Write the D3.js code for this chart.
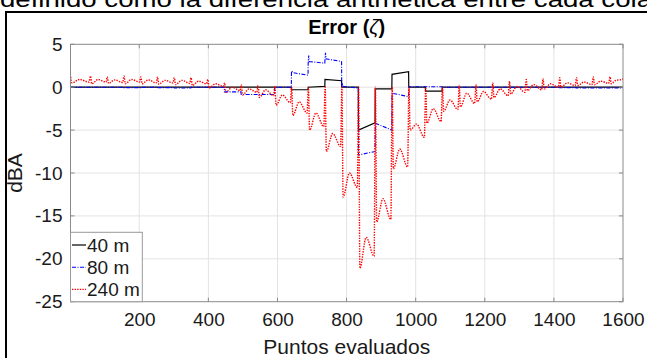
<!DOCTYPE html>
<html><head><meta charset="utf-8">
<script src="https://cdn.jsdelivr.net/npm/d3@7"></script>
<style>
html,body{margin:0;padding:0;background:#fff;}
svg{display:block;font-family:"Liberation Sans",Arial,Helvetica,sans-serif;}
</style></head>
<body>
<svg id="chart" width="647" height="358"></svg>
<script>
// ---- data ----
const seriesNames = ["40 m", "80 m", "240 m"];
const xTicks = [200, 400, 600, 800, 1000, 1200, 1400, 1600];
const yTicks = [-25, -20, -15, -10, -5, 0, 5];
// start of each measurement block (point index)
const blockStarts = [1, 58.5, 107, 155.5, 204, 252.5, 301, 349.5, 398, 446.5, 495, 543.5, 592, 640.5, 689, 737.5, 786, 834.5, 883, 931.5, 980, 1028.5, 1077, 1125.5, 1174, 1222.5, 1271, 1319.5, 1368, 1416.5, 1465, 1513.5, 1562];
const lastPoint = 1600;
// 240 m (red): per block spike at start, first minimum, hump, second minimum
const redTop  = [1.2, 1.3, 1.2, 1.3, 1.2, 1.2, 1.1, 1.1, 0.9, 0.5, 0.3, 0.2, 0.1, 0.0, 0.0, 0.0, 0.0, 0.0, 0.0, 0.0, 0.0, 0.0, 0.0, 0.2, 0.3, 0.5, 0.7, 0.9, 1.0, 1.1, 1.1, 1.2, 1.2];
const redMin1 = [0.5, 0.4, 0.45, 0.4, 0.4, 0.35, 0.3, 0.2, -0.1, -0.6, -0.9, -1.2, -2.1, -3.3, -5.0, -7.5, -12.8, -21.1, -15.7, -9.5, -5.0, -4.2, -2.8, -2.3, -1.7, -1.2, -0.8, -0.4, -0.2, 0.0, 0.2, 0.3, 0.4];
const redHump = [0.9, 0.9, 0.85, 0.9, 0.85, 0.8, 0.8, 0.7, 0.4, 0.0, -0.2, -0.3, -0.9, -1.7, -3.0, -5.4, -10.0, -17.5, -13.0, -7.2, -4.3, -2.5, -1.5, -0.7, -0.5, -0.2, 0.1, 0.3, 0.4, 0.5, 0.6, 0.7, 0.8];
const redMin2 = [0.6, 0.6, 0.55, 0.6, 0.5, 0.5, 0.45, 0.4, 0.1, -0.4, -0.6, -1.0, -1.8, -3.0, -4.6, -6.9, -11.7, -19.7, -15.4, -9.3, -5.85, -4.0, -2.6, -1.9, -1.4, -1.0, -0.6, -0.3, 0.0, 0.2, 0.3, 0.45, 0.9];
const redLast = 1.0;
// 80 m (blue): value at start / end of each block, plus start spikes
const blueStart = [0, 0, 0, -0.05, 0, -0.05, -0.1, 0, 0, -0.55, -0.85, -0.85, 0, 1.7, 3.0, 3.3, 0.1, -7.9, -4.2, -0.7, 0.05, 0.05, 0, 0, 0, 0, 0, 0, 0, -0.05, -0.1, -0.1, -0.1];
const blueEnd   = [0, 0, 0, -0.05, 0, -0.05, -0.1, 0, 0, -0.55, -0.85, -0.85, 0, 1.4, 2.8, 3.0, -0.1, -7.5, -5.0, -1.1, 0.05, 0.05, 0, 0, 0, 0, 0, 0, 0, -0.05, -0.1, -0.1, -0.1];
const blueSpike = [null, null, null, null, null, null, null, null, null, null, null, null, null, 1.9, 3.7, 4.0, 0.5, null, null, null, null, null, null, null, null, null, null, null, null, null, null, null, null];
// 40 m (black)
const blackStart = [0, 0, 0, 0, 0, 0, 0, 0, 0, 0, 0, 0, 0, -0.3, 0.0, 0.9, 0, -5.0, -0.2, 1.5, 0, -0.45, 0, 0, 0, 0, 0, 0, 0, 0, 0, 0, 0];
const blackEnd   = [0, 0, 0, 0, 0, 0, 0, 0, 0, 0, 0, 0, 0, -0.3, 0.1, 0.75, 0, -4.15, -0.2, 1.8, 0, -0.45, 0, 0, 0, 0, 0, 0, 0, 0, 0, 0, 0];

// ---- layout ----
const svg = d3.select("#chart");
const L = 70.5, R = 623, T = 44.3, B = 301.7;
const x = d3.scaleLinear().domain([1, 1600]).range([L, R]);
const y = d3.scaleLinear().domain([-25, 5]).range([B, T]);

// clipped text of the surrounding document
svg.append("text").attr("x", 0).attr("y", 7).attr("font-size", 22)
  .attr("textLength", 652).attr("lengthAdjust", "spacingAndGlyphs")
  .text("definido como la diferencia aritmética entre cada cola");

// outer frame (left + top)
svg.append("path").attr("d", `M6,358 V12 H647`).attr("fill", "none")
  .attr("stroke", "#000").attr("stroke-width", 2);

// grid
const grid = svg.append("g");
grid.selectAll("line.gx").data(xTicks.filter(d => d < 1600)).enter().append("line")
  .attr("x1", d => x(d)).attr("x2", d => x(d)).attr("y1", T).attr("y2", B)
  .attr("stroke", "#e3e3e3").attr("stroke-width", 1);
grid.selectAll("line.gy").data(yTicks.filter(d => d > -25 && d < 5)).enter().append("line")
  .attr("x1", L).attr("x2", R).attr("y1", d => y(d)).attr("y2", d => y(d))
  .attr("stroke", "#e3e3e3").attr("stroke-width", 1);

// series points
const redPts = [], bluePts = [], blackPts = [];
blockStarts.forEach((b, i) => {
  const e = i + 1 < blockStarts.length ? blockStarts[i + 1] : lastPoint;
  const w = e - b;
  redPts.push([b + 0.5, redTop[i]], [b + 4, redMin1[i]], [b + 0.46 * w, redHump[i]], [b + 0.93 * w, redMin2[i]]);
  blackPts.push([b, blackStart[i]], [e - 0.5, blackEnd[i]]);
  bluePts.push([b, blueStart[i]]);
  if (blueSpike[i] !== null) bluePts.push([b + 1.5, blueSpike[i]], [b + 3, blueStart[i]]);
  bluePts.push([e - 0.5, blueEnd[i]]);
});
redPts.push([lastPoint, redLast]);

svg.append("defs").append("clipPath").attr("id", "clip")
  .append("rect").attr("x", L).attr("y", T).attr("width", R - L).attr("height", B - T);
const plot = svg.append("g").attr("clip-path", "url(#clip)");
const lineLin = d3.line().x(d => x(d[0])).y(d => y(d[1]));
const lineCurve = d3.line().x(d => x(d[0])).y(d => y(d[1])).curve(d3.curveMonotoneX);

plot.append("path").datum(blackPts).attr("d", lineLin).attr("fill", "none")
  .attr("stroke", "#000").attr("stroke-width", 1.2);
plot.append("path").datum(bluePts).attr("d", lineLin).attr("fill", "none")
  .attr("stroke", "#0000ff").attr("stroke-width", 1.1).attr("stroke-dasharray", "4,1.5,1,1.5");
plot.append("path").datum(redPts).attr("d", lineCurve).attr("fill", "none")
  .attr("stroke", "#ff0000").attr("stroke-width", 1.4).attr("stroke-dasharray", "1.4,1.2");

// axes box
const axisColor = "#8a8a8a";
svg.append("rect").attr("x", L).attr("y", T).attr("width", R - L).attr("height", B - T)
  .attr("fill", "none").attr("stroke", axisColor).attr("stroke-width", 1);
const xAxis = d3.axisBottom(x).tickValues(xTicks).tickSize(0).tickPadding(11).tickFormat(d => String(d));
const gx = svg.append("g").attr("transform", `translate(0,${B})`).call(xAxis);
gx.select(".domain").remove();
gx.selectAll("text").attr("font-size", 19).attr("fill", "#1a1a1a")
  .attr("font-family", "Liberation Sans, Arial, sans-serif");
const yAxis = d3.axisLeft(y).tickValues(yTicks).tickSize(0).tickPadding(8).tickFormat(d => String(d));
const gy = svg.append("g").attr("transform", `translate(${L},0)`).call(yAxis);
gy.select(".domain").remove();
gy.selectAll("text").attr("font-size", 19).attr("fill", "#1a1a1a")
  .attr("font-family", "Liberation Sans, Arial, sans-serif");
// inward tick marks
const tk = svg.append("g").attr("stroke", axisColor).attr("stroke-width", 1);
xTicks.forEach(d => {
  tk.append("line").attr("x1", x(d)).attr("x2", x(d)).attr("y1", B).attr("y2", B - 4);
  tk.append("line").attr("x1", x(d)).attr("x2", x(d)).attr("y1", T).attr("y2", T + 4);
});
yTicks.forEach(d => {
  tk.append("line").attr("x1", L).attr("x2", L + 4).attr("y1", y(d)).attr("y2", y(d));
  tk.append("line").attr("x1", R).attr("x2", R - 4).attr("y1", y(d)).attr("y2", y(d));
});

// title & labels
const title = svg.append("text").attr("x", (L + R) / 2).attr("y", 34).attr("text-anchor", "middle")
  .attr("font-size", 20).attr("font-weight", "bold").attr("fill", "#000");
title.append("tspan").text("Error (");
title.append("tspan").attr("font-style", "italic").attr("font-weight", "normal").text("ζ");
title.append("tspan").text(")");
svg.append("text").attr("x", (L + R) / 2).attr("y", 354).attr("text-anchor", "middle")
  .attr("font-size", 21).attr("fill", "#1a1a1a").text("Puntos evaluados");
svg.append("text").attr("transform", `translate(22,${(T + B) / 2}) rotate(-90)`)
  .attr("text-anchor", "middle").attr("font-size", 21).attr("fill", "#1a1a1a").text("dBA");

// legend
const leg = svg.append("g");
leg.append("rect").attr("x", 70.5).attr("y", 232.3).attr("width", 71.8).attr("height", 69.4)
  .attr("fill", "#fff").attr("stroke", "#999").attr("stroke-width", 1);
const legStyles = [
  {c: "#000", d: null, w: 1.2},
  {c: "#0000ff", d: "4,1.5,1,1.5", w: 1.1},
  {c: "#ff0000", d: "1.4,1.2", w: 1.4}
];
seriesNames.forEach((n, i) => {
  const cy = 245 + i * 22.2;
  leg.append("line").attr("x1", 72).attr("x2", 86).attr("y1", cy).attr("y2", cy)
    .attr("stroke", legStyles[i].c).attr("stroke-width", legStyles[i].w)
    .attr("stroke-dasharray", legStyles[i].d);
  leg.append("text").attr("x", 87).attr("y", cy).attr("dy", "0.35em")
    .attr("font-size", 19).attr("fill", "#1a1a1a").text(n);
});
</script>
</body></html>
